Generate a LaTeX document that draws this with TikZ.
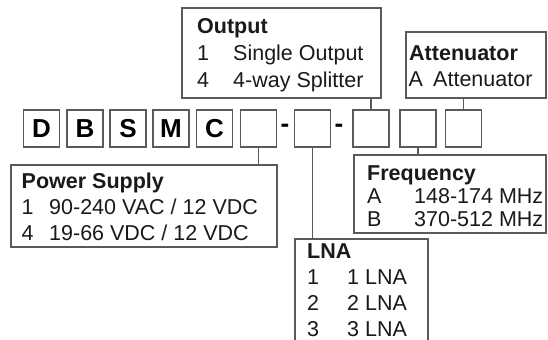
\documentclass[tikz,border=0pt]{standalone}
\usepackage{fontspec}
\setmainfont{Liberation Sans}
\definecolor{ln}{HTML}{5A5A5A}
\definecolor{tx}{HTML}{1A1A1A}
\tikzset{
 cell/.style={draw=ln, line width=1.2bp, minimum width=36bp, minimum height=37bp, inner sep=0pt, font=\fontsize{26bp}{26bp}\selectfont\bfseries, text=black},
 info/.style={draw=ln, line width=1.2bp, inner sep=0pt},
 conn/.style={draw=ln, line width=1.2bp},
 tt/.style={anchor=base west, inner sep=0pt, text=tx, font=\fontsize{21.5bp}{24bp}\selectfont},
 hd/.style={anchor=base west, inner sep=0pt, text=tx, font=\fontsize{21.5bp}{24bp}\selectfont\bfseries},
 dashmark/.style={inner sep=0pt, font=\fontsize{26bp}{26bp}\selectfont\bfseries, text=black},
}
\begin{document}
\begin{tikzpicture}[x=1bp, y=-1bp]
\clip (0,0) rectangle (548,339);
\fill[white] (0,0) rectangle (548,339);
% code cells
\node[cell] (d) at (41.6,128.5) {D};
\node[cell] (b) at (85,128.5) {B};
\node[cell] (s) at (128,128.5) {S};
\node[cell] (m) at (171,128.5) {M};
\node[cell] (c) at (214.5,128.5) {C};
\node[cell] (e1) at (258.7,128.5) {};
\node[dashmark] (h1) at (285,128) {-};
\node[cell] (e2) at (312.5,128.5) {};
\node[dashmark] (h2) at (339,128) {-};
\node[cell] (e3) at (371,128.5) {};
\node[cell] (e4) at (418,128.5) {};
\node[cell] (e5) at (463.5,128.5) {};
% info boxes
\node[info, minimum width=199bp, minimum height=90bp] (out) at (281.5,53) {};
\node[info, minimum width=140bp, minimum height=66bp] (att) at (476,65) {};
\node[info, minimum width=266bp, minimum height=82bp] (ps) at (144,206) {};
\node[info, minimum width=192bp, minimum height=78bp] (fr) at (450,194) {};
\node[info, minimum width=133bp, minimum height=111bp] (lna) at (361.5,294.5) {};
% connectors
\draw[conn] (e1.south) -- (e1.south |- ps.north);
\draw[conn] (e2.south) -- (e2.south |- lna.north);
\draw[conn] (e4.south) -- (e4.south |- fr.north);
\draw[conn] (e3.north) -- (e3.north |- out.south);
\draw[conn] (e5.north) -- (e5.north |- att.south);
% Output texts
\node[hd] (outh) at (197,33) {Output};
\node[tt] (out1k) at (197,60) {1};
\node[tt] (out1v) at (233,60) {Single Output};
\node[tt] (out4k) at (197,87) {4};
\node[tt] (out4v) at (233,87) {4-way Splitter};
% Attenuator texts
\node[hd] (atth) at (409,60) {Attenuator};
\node[tt] (attak) at (408.5,86) {A};
\node[tt] (attav) at (433,86) {Attenuator};
% Power supply texts
\node[hd] (psh) at (21.5,188) {Power Supply};
\node[tt] (ps1k) at (21.5,214) {1};
\node[tt] (ps1v) at (49,214) {90-240 VAC / 12 VDC};
\node[tt] (ps4k) at (21.5,240) {4};
\node[tt] (ps4v) at (49,240) {19-66 VDC / 12 VDC};
% Frequency texts
\node[hd] (frh) at (367,180) {Frequency};
\node[tt] (frak) at (367,203) {A};
\node[tt] (frav) at (414,203) {148-174 MHz};
\node[tt] (frbk) at (367,226) {B};
\node[tt] (frbv) at (414,226) {370-512 MHz};
% LNA texts
\node[hd] (lnah) at (307,258) {LNA};
\node[tt] (lna1k) at (307,284) {1};
\node[tt] (lna1v) at (347,284) {1 LNA};
\node[tt] (lna2k) at (307,310) {2};
\node[tt] (lna2v) at (347,310) {2 LNA};
\node[tt] (lna3k) at (307,336) {3};
\node[tt] (lna3v) at (347,336) {3 LNA};
\end{tikzpicture}
\end{document}
